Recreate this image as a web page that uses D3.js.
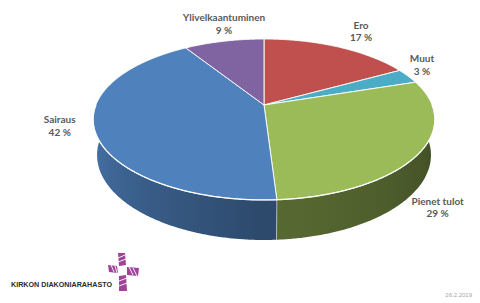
<!DOCTYPE html>
<html>
<head>
<meta charset="utf-8">
<script src="https://cdn.jsdelivr.net/npm/d3@7"></script>
<style>
  body { margin: 0; background: #fff; }
  svg { display: block; }
  .lbl { font-family: Lato, "Liberation Sans", sans-serif; font-weight: bold; font-size: 10px; fill: #595959; }
</style>
</head>
<body>
<svg id="chart" width="480" height="303"></svg>
<script>
// data
var categories = ["Ero", "Muut", "Pienet tulot", "Sairaus", "Ylivelkaantuminen"];
var shares = [17, 3, 29, 42, 9];
var shareLabels = ["17 %", "3 %", "29 %", "42 %", "9 %"];
var dateText = "26.2.2019";
var logoText = "KIRKON DIAKONIARAHASTO";

// layout / style
var palette = ["#c0504d", "#4bacc6", "#9bbb59", "#4f81bd", "#8064a2"];
var labelShift = [[23, -12], [14, -8], [19, 57], [-35, -1], [0, -14]];

var svg = d3.select("#chart");
var defs = svg.append("defs");
var color = d3.scaleOrdinal(categories, palette);

// simple perspective camera for the 3d pie
var cx = 264, cy = 105, R = 0.203, D = 1, F = 828, H = 0.0489;
var tilt = 27.6 * Math.PI / 180, sinT = Math.sin(tilt), cosT = Math.cos(tilt);

function project(a, s, h) {
    var x = R * s * Math.sin(a), z = R * s * Math.cos(a);
    var w = D + z * cosT + h * sinT;
    var up = z * sinT - h * cosT;
    return [cx + F * x / w, cy - F * up / w];
}

var arcs = d3.pie().sort(null).value(function(d) { return d; })(shares);
arcs.forEach(function(a, i) { a.name = categories[i]; a.label = shareLabels[i]; });

function samples(a0, a1) {
    var n = Math.max(2, Math.ceil((a1 - a0) / (Math.PI / 360)));
    return d3.range(n + 1).map(function(k) { return a0 + (a1 - a0) * k / n; });
}

var line = d3.line();

// side wall: only the front half, one path per slice with a shaded gradient
var shade = d3.scaleLinear().domain([90, 180, 270]).range([0.4, 0.57, 0.92]).clamp(true);
var sides = arcs.map(function(a, i) {
    var a0 = Math.max(a.startAngle, Math.PI / 2), a1 = Math.min(a.endAngle, Math.PI * 1.5);
    return {arc: a, i: i, a0: a0, a1: a1};
}).filter(function(s) { return s.a1 > s.a0; });

sides.forEach(function(s) {
    var c = d3.rgb(color(s.arc.name));
    var vis = samples(Math.max(s.a0, 104 * Math.PI / 180), Math.min(s.a1, 256 * Math.PI / 180));
    var xs = vis.map(function(t) { return project(t, 1, H)[0]; });
    var xmin = d3.min(xs), xmax = d3.max(xs);
    var stops = vis.map(function(t, k) {
        var f = shade(t * 180 / Math.PI);
        return {off: (xs[k] - xmin) / (xmax - xmin || 1), col: d3.rgb(c.r * f, c.g * f, c.b * f).formatHex()};
    }).sort(function(p, q) { return p.off - q.off; }).filter(function(p, k) { return k % 6 === 0; });
    defs.append("linearGradient")
        .attr("id", "side" + s.i)
        .attr("gradientUnits", "userSpaceOnUse")
        .attr("x1", xmin).attr("x2", xmax).attr("y1", 0).attr("y2", 0)
        .selectAll("stop")
        .data(stops)
        .enter()
        .append("stop")
        .attr("offset", function(p) { return p.off; })
        .attr("stop-color", function(p) { return p.col; });
});

svg.append("g").selectAll("path")
    .data(sides)
    .enter()
    .append("path")
    .attr("d", function(s) {
        var ang = samples(s.a0, s.a1);
        var top = ang.map(function(t) { return project(t, 1, 0); });
        var bot = ang.slice().reverse().map(function(t) { return project(t, 1, H); });
        return line(top.concat(bot)) + "Z";
    })
    .attr("fill", function(s) { return "url(#side" + s.i + ")"; });

// light seams where two slices meet on the visible wall
svg.append("g").selectAll("line")
    .data(arcs.filter(function(a) { return Math.cos(a.startAngle) < -0.1; }))
    .enter()
    .append("line")
    .attr("x1", function(a) { return project(a.startAngle, 1, 0)[0]; })
    .attr("y1", function(a) { return project(a.startAngle, 1, 0)[1]; })
    .attr("x2", function(a) { return project(a.startAngle, 1, H)[0]; })
    .attr("y2", function(a) { return project(a.startAngle, 1, H)[1]; })
    .attr("stroke", "#ffffff")
    .attr("stroke-opacity", 0.6)
    .attr("stroke-width", 0.8);

// top faces
svg.append("g").selectAll("path")
    .data(arcs)
    .enter()
    .append("path")
    .attr("d", function(a) {
        var pts = [project(0, 0, 0)].concat(samples(a.startAngle, a.endAngle).map(function(t) { return project(t, 1, 0); }));
        return line(pts) + "Z";
    })
    .attr("fill", function(a) { return color(a.name); })
    .attr("stroke", "#ffffff")
    .attr("stroke-width", 0.9)
    .attr("stroke-linejoin", "round");

// bright bevel along the front rim
svg.append("path")
    .attr("d", line(samples(Math.PI / 2, Math.PI * 1.5).map(function(t) { return project(t, 1, 0); })))
    .attr("fill", "none")
    .attr("stroke", "#ffffff")
    .attr("stroke-width", 1.3)
    .attr("stroke-opacity", 0.9);

// data labels
var labels = svg.append("g").selectAll("text")
    .data(arcs)
    .enter()
    .append("text")
    .attr("class", "lbl")
    .attr("text-anchor", "middle");

labels.each(function(a, i) {
    var mid = (a.startAngle + a.endAngle) / 2;
    var p = project(mid, 1, 0);
    var x = p[0] + labelShift[i][0], y = p[1] + labelShift[i][1];
    var t = d3.select(this);
    t.append("tspan").attr("x", x).attr("y", y - 6).text(a.name);
    t.append("tspan").attr("x", x).attr("y", y + 6.5).text(a.label);
});

// footer: logo and date
svg.append("text")
    .attr("x", 11)
    .attr("y", 287)
    .attr("textLength", 101)
    .attr("lengthAdjust", "spacingAndGlyphs")
    .style("font-family", "'Liberation Sans', sans-serif")
    .style("font-weight", "bold")
    .style("font-size", "7px")
    .style("fill", "#2b2b2b")
    .text(logoText);

var logo = svg.append("g").attr("transform", "translate(123,271)");
var arms = [
    [[-5, -18], [2, -18], [3, -6], [-4, -5]],
    [[4, -4], [16, -3], [15, 5], [4, 4]],
    [[-4, 5], [3, 4], [4, 20], [-4, 20]],
    [[-15, -6], [-6, -5], [-5, 2], [-14, 1]]
];
logo.selectAll("path.arm")
    .data(arms)
    .enter()
    .append("path")
    .attr("class", "arm")
    .attr("d", function(d) { return line(d) + "Z"; })
    .attr("fill", "#a0449a");
logo.selectAll("line")
    .data([[-5, -13, 2, -16], [-5, -9, 3, -12], [6, -4, 10, 4], [10, -3, 14, 5], [-4, 10, 4, 7], [-4, 15, 4, 12], [-12, -6, -9, 1], [-8, -5, -6, 2]])
    .enter()
    .append("line")
    .attr("x1", function(d) { return d[0]; })
    .attr("y1", function(d) { return d[1]; })
    .attr("x2", function(d) { return d[2]; })
    .attr("y2", function(d) { return d[3]; })
    .attr("stroke", "#ffffff")
    .attr("stroke-width", 0.9);

svg.append("text")
    .attr("x", 472)
    .attr("y", 297)
    .attr("text-anchor", "end")
    .style("font-family", "'Liberation Sans', sans-serif")
    .style("font-size", "6px")
    .style("fill", "#a6a6a6")
    .text(dateText);
</script>
</body>
</html>
